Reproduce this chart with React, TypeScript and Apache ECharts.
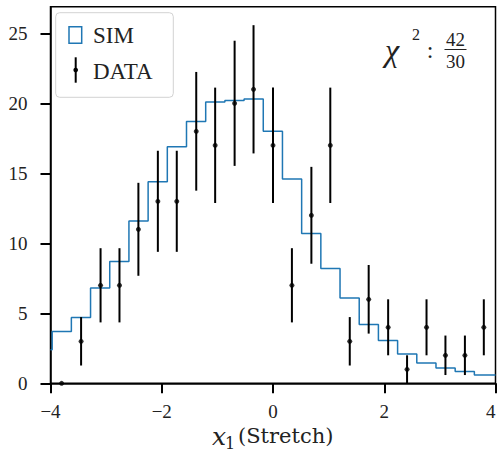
import React, { useEffect, useRef } from "react";
import * as echarts from "echarts";

// SIM histogram: bin edges (clipped to the visible range) and bin heights
const binEdges = [-4.0, -3.97, -3.625, -3.28, -2.935, -2.59, -2.245, -1.9, -1.555, -1.21, -0.865, -0.52, -0.175, 0.17, 0.515, 0.86, 1.205, 1.55, 1.895, 2.24, 2.585, 2.93, 3.275, 3.62, 4.0];
const simValues = [2.4, 3.7, 4.7, 6.8, 8.7, 11.6, 14.4, 16.9, 18.7, 20.1, 20.2, 20.3, 18.0, 14.6, 10.7, 8.2, 6.1, 4.2, 3.05, 2.1, 1.45, 1.1, 0.85, 0.6];

// DATA points with error bars
const dataX = [-3.8, -3.45, -3.1, -2.76, -2.42, -2.07, -1.73, -1.38, -1.04, -0.69, -0.35, 0.0, 0.34, 0.69, 1.03, 1.38, 1.72, 2.07, 2.41, 2.76, 3.1, 3.45, 3.79];
const dataY = [0, 3, 7, 7, 11, 13, 13, 18, 17, 20, 21, 17, 7, 12, 17, 3, 6, 4, 1, 4, 2, 2, 4];
const dataErr = [0, 1.73, 2.65, 2.65, 3.32, 3.61, 3.61, 4.24, 4.12, 4.47, 4.58, 4.12, 2.65, 3.46, 4.12, 1.73, 2.45, 2, 1, 2, 1.41, 1.41, 2];

const xTicks = [-4, -2, 0, 2, 4];
const yTicks = [0, 5, 10, 15, 20, 25];

const SERIF = "Liberation Serif";
const SERIF_WIDE = "DejaVu Serif";
const BLUE = "#1f77b4";

const fmt = (v: number) => (v < 0 ? "\u2212" + Math.abs(v) : String(v));

export default function App() {
  const ref = useRef<HTMLDivElement>(null);
  useEffect(() => {
    if (!ref.current) return;
    document.body.style.margin = "0";
    const chart = echarts.init(ref.current, undefined, { renderer: "svg" });

    const stepData: number[][] = [];
    simValues.forEach((v, i) => {
      stepData.push([binEdges[i], v]);
      stepData.push([binEdges[i + 1], v]);
    });
    const pts = dataX.map((x, i) => [x, dataY[i], dataErr[i]]);

    const txt = (
      x: number,
      y: number,
      text: string,
      size: number,
      align = "left",
      italic = false,
      family = SERIF
    ) => {
      const style: any = {
        text,
        fontFamily: family,
        fontSize: size,
        fill: "#222",
        verticalAlign: "middle",
        align,
      };
      if (italic) style.fontStyle = "italic";
      return { type: "text", x, y, style };
    };

    chart.setOption({
      animation: false,
      textStyle: { fontFamily: SERIF },
      grid: {
        left: 50.5,
        top: 6.7,
        width: 445,
        height: 376.6,
        show: true,
        borderColor: "#000",
        borderWidth: 1.5,
        backgroundColor: "transparent",
        outerBoundsMode: "none",
        containLabel: false,
      },
      xAxis: {
        type: "value",
        min: -4,
        max: 4,
        interval: 2,
        axisLine: { show: true, onZero: false, lineStyle: { color: "#000", width: 1.5 } },
        axisTick: { show: true, inside: false, length: 10, lineStyle: { color: "#000", width: 2 }, customValues: xTicks },
        axisLabel: {
          customValues: xTicks,
          formatter: fmt,
          color: "#222",
          fontFamily: SERIF,
          fontSize: 19,
          margin: 19,
          hideOverlap: false,
          alignMaxLabel: "right",
        },
        splitLine: { show: false },
      },
      yAxis: {
        type: "value",
        min: 0,
        max: 26.9,
        interval: 5,
        axisLine: { show: true, onZero: false, lineStyle: { color: "#000", width: 1.5 } },
        axisTick: { show: true, inside: false, length: 10, lineStyle: { color: "#000", width: 2 }, customValues: yTicks },
        axisLabel: {
          customValues: yTicks,
          formatter: fmt,
          color: "#222",
          fontFamily: SERIF,
          fontSize: 19,
          margin: 23,
        },
        splitLine: { show: false },
      },
      series: [
        {
          type: "line",
          data: stepData,
          showSymbol: false,
          lineStyle: { color: BLUE, width: 1.5 },
          z: 2,
        },
        {
          type: "custom",
          data: pts,
          z: 3,
          renderItem: (params: any, api: any) => {
            const x = api.value(0);
            const y = api.value(1);
            const e = api.value(2);
            const p1 = api.coord([x, y - e]);
            const p2 = api.coord([x, y + e]);
            return {
              type: "line",
              shape: { x1: p1[0], y1: p1[1], x2: p2[0], y2: p2[1] },
              style: { stroke: "#000", lineWidth: 2 },
            };
          },
        },
        {
          type: "scatter",
          data: pts.map((p) => [p[0], p[1]]),
          symbol: "circle",
          symbolSize: 5,
          itemStyle: { color: "#000" },
          z: 4,
        },
      ],
      graphic: [
        {
          type: "group",
          z: 10,
          children: [
            // legend
            {
              type: "rect",
              shape: { x: 55.7, y: 12.7, width: 117.6, height: 84.6, r: 4 },
              style: { fill: "rgba(255,255,255,0.8)", stroke: "#d3d3d3", lineWidth: 1 },
            },
            {
              type: "rect",
              shape: { x: 69, y: 26.7, width: 12.7, height: 16.6 },
              style: { fill: "none", stroke: BLUE, lineWidth: 1.5 },
            },
            txt(93, 35.5, "SIM", 23),
            {
              type: "line",
              shape: { x1: 75.7, y1: 57.3, x2: 75.7, y2: 82.7 },
              style: { stroke: "#000", lineWidth: 2 },
            },
            {
              type: "circle",
              shape: { cx: 75.7, cy: 70, r: 2.3 },
              style: { fill: "#000" },
            },
            txt(93, 71, "DATA", 23),
            // chi-square annotation
            txt(385, 50, "\u03c7", 32, "left", true),
            txt(412, 34, "2", 16),
            txt(430, 50, ":", 24, "center"),
            txt(455.5, 39, "42", 19, "center"),
            {
              type: "line",
              shape: { x1: 444.5, y1: 49.5, x2: 466.5, y2: 49.5 },
              style: { stroke: "#222", lineWidth: 1 },
            },
            txt(455.5, 61.5, "30", 19, "center"),
            // x-axis title: x_1 (Stretch)
            txt(212, 436, "x", 25, "left", true, SERIF_WIDE),
            txt(225, 443, "1", 16, "left", false, SERIF_WIDE),
            txt(238, 436, "(Stretch)", 21, "left", false, SERIF_WIDE),
          ],
        },
      ],
    });
    return () => chart.dispose();
  }, []);

  return <div ref={ref} style={{ width: 497, height: 451, background: "#fff" }} />;
}
